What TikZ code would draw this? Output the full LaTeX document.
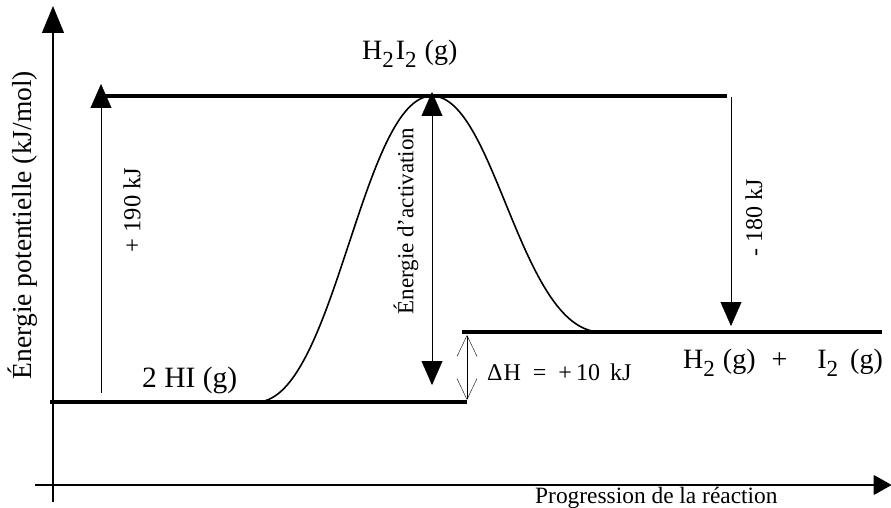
\documentclass[tikz,border=0pt]{standalone}
\usepackage{fontspec}
\setmainfont{Liberation Serif}
\usetikzlibrary{arrows.meta}
\newcommand{\ssub}[1]{\raisebox{-8pt}{\fontsize{23}{23}\selectfont #1}}
\tikzset{
  lbl/.style={font=\fontsize{23}{26}\selectfont, inner sep=0pt},
  bigl/.style={font=\fontsize{28}{32}\selectfont, inner sep=0pt, anchor=base west},
  level/.style={line width=4.5pt},
  tip/.style={-{Triangle[length=24pt,width=21pt]}},
  barb/.style={{Straight Barb[length=21pt,width=20pt]}-{Straight Barb[length=21pt,width=20pt]}},
}
\begin{document}
\begin{tikzpicture}[x=1pt,y=-1pt]
\useasboundingbox (0,0) rectangle (891,508);
% axes
\coordinate (ybot) at (53,502); \coordinate (ytop) at (53,6);
\coordinate (xl) at (35,485);   \coordinate (xr) at (891,485);
\draw[line width=1.2pt,-{Triangle[length=27pt,width=22pt]}] (ybot) -- (ytop);
\draw[line width=1.2pt,-{Triangle[round,length=18pt,width=20pt]}] (xl) -- (xr);
\node[font=\fontsize{27.5}{30}\selectfont,inner sep=0pt,rotate=90] (ylab) at (23,225) {Énergie potentielle (kJ/mol)};
\node[lbl,font=\fontsize{23.4}{26}\selectfont,anchor=base west] (xlab) at (535,503) {Progression de la réaction};
% energy levels
\coordinate (ts) at (100,96);  \coordinate (te) at (727,96);
\coordinate (rs) at (50,402);  \coordinate (re) at (467,402);
\coordinate (ps) at (462,332); \coordinate (pe) at (882,332);
\draw[level] (ts) -- (te);
\draw[level] (rs) -- (re);
\draw[level] (ps) -- (pe);
% reaction path
\coordinate (c0) at (258,402); \coordinate (peak) at (432,96); \coordinate (c1) at (600,332);
\draw[line width=1.6pt] (c0) .. controls (335,398) and (362,96) .. (peak)
  .. controls (495,96) and (520,330) .. (c1);
% arrows
\coordinate (a1s) at (101,393); \coordinate (a1e) at (101,84);
\draw[thin,tip] (a1s) -- (a1e);
\coordinate (eas) at (432,92); \coordinate (eae) at (432,385);
\draw[thin,{Triangle[length=24pt,width=21pt]}-{Triangle[length=24pt,width=21pt]}] (eas) -- (eae);
\coordinate (dhs) at (467,335); \coordinate (dhe) at (467,400);
\draw[thin,barb] (dhs) -- (dhe);
\coordinate (a2s) at (731,97); \coordinate (a2e) at (731,326);
\draw[thin,tip] (a2s) -- (a2e);
% labels
\node[bigl] (ts2) at (362,60) {H\ssub{2}\hspace{2pt}I\ssub{2}\hspace{8pt}(g)};
\node[bigl,font=\fontsize{29.5}{32}\selectfont] (hi) at (142,387) {2 HI (g)};
\node[bigl] (prod) at (683,368) {H\ssub{2}\hspace{8pt}(g)\hspace{16pt}+\hspace{30pt}I\ssub{2}\hspace{12pt}(g)};
\node[lbl,font=\fontsize{24}{26}\selectfont,anchor=base west] (dh) at (487,380) {Δ\hspace{1pt}H\hspace{12pt}=\hspace{12pt}+\hspace{4pt}10\hspace{10pt}kJ};
\node[lbl,rotate=90] (ea) at (406,221) {Énergie d'activation};
\node[lbl,font=\fontsize{24.5}{26}\selectfont,rotate=90] (l190) at (132,210) {+ 190 kJ};
\node[lbl,font=\fontsize{24}{26}\selectfont,rotate=90] (l180) at (754,218) {- 180 kJ};
\end{tikzpicture}
\end{document}
